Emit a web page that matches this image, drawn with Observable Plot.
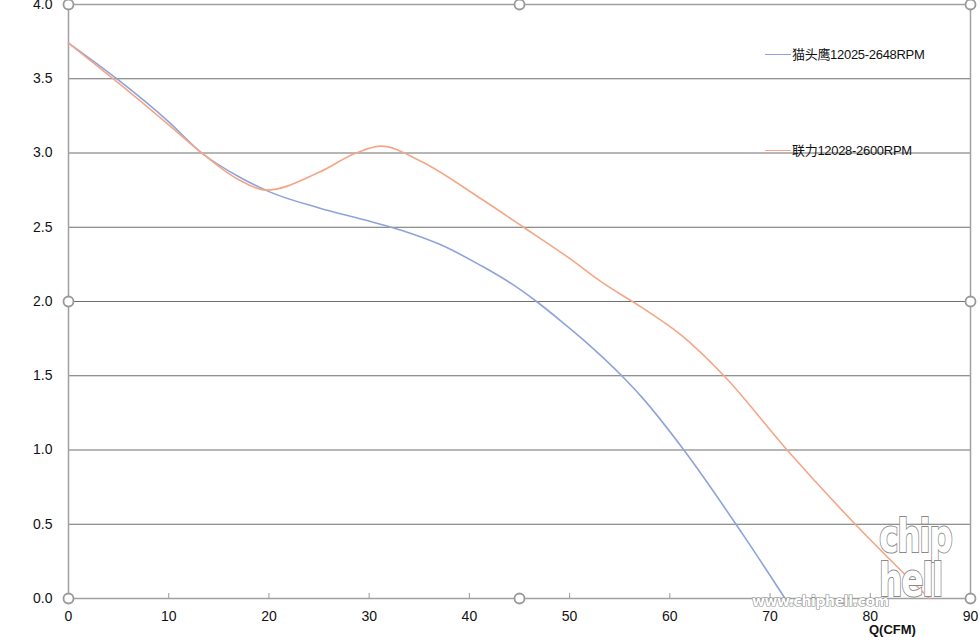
<!DOCTYPE html>
<html>
<head>
<meta charset="utf-8">
<script src="https://cdn.jsdelivr.net/npm/d3@7"></script>
<script src="https://cdn.jsdelivr.net/npm/@observablehq/plot@0.6"></script>
<style>
  html, body { margin: 0; padding: 0; background: #fff; }
  #wrap { position: relative; width: 980px; height: 637px; overflow: hidden;
          font-family: "Liberation Sans", Arial, "Noto Sans CJK SC", sans-serif; }
  .leg { position: absolute; font-size: 13px; color: #111; white-space: nowrap; letter-spacing: -0.3px; }
  .leg span.sw { display: inline-block; width: 26px; height: 0; border-top: 1.6px solid; vertical-align: middle; margin-right: 1px; position: relative; top: -1px; }
  .xlabel { position: absolute; font-size: 13px; font-weight: bold; color: #111; }
  .wm { position: absolute; font-family: "DejaVu Sans", sans-serif; font-weight: bold; color: #fff;
        -webkit-text-stroke: 1.2px #8a8a8a; paint-order: stroke fill; white-space: nowrap; }
</style>
</head>
<body>
<div id="wrap"></div>
<script>
// Series: 猫头鹰 12025-2648RPM  (Q in CFM, static pressure)
const qOwl = [0, 5, 10, 13.3, 17, 20, 25, 29.5, 33.2, 37.2, 41.2, 44.2, 46.7, 49.2, 51.4, 55.2, 57.2, 61.4, 67.2, 71.5];
const pOwl = [3.74, 3.49, 3.21, 3.0, 2.84, 2.74, 2.63, 2.55, 2.48, 2.38, 2.24, 2.12, 2.0, 1.865, 1.74, 1.5, 1.356, 1.0, 0.44, 0];
// Series: 联力 12028-2600RPM
const qLian = [0, 5, 10, 13.3, 17, 19.7, 25, 28.7, 31.2, 35, 41.2, 45.4, 50, 53.2, 57.2, 61.2, 65.4, 71.7, 78.5, 85.9];
const pLian = [3.74, 3.47, 3.19, 3.0, 2.82, 2.75, 2.87, 3.0, 3.046, 2.95, 2.69, 2.5, 2.29, 2.13, 1.96, 1.77, 1.5, 1.0, 0.5, 0];
const seriesNames = ["猫头鹰12025-2648RPM", "联力12028-2600RPM"];
const seriesColors = ["#8fa3db", "#f4a687"];
const xTicks = [0, 10, 20, 30, 40, 50, 60, 70, 80, 90];
const yTicks = [0, 0.5, 1.0, 1.5, 2.0, 2.5, 3.0, 3.5, 4.0];
const gridY = [0.5, 1.0, 1.5, 2.0, 2.5, 3.0, 3.5];
const handles = [[0, 0], [45, 0], [90, 0], [0, 2], [90, 2], [0, 4], [45, 4], [90, 4]];
const xTitle = "Q(CFM)";

const owl = qOwl.map((q, i) => ({q, p: pOwl[i]}));
const lian = qLian.map((q, i) => ({q, p: pLian[i]}));

const W = 980, H = 637;
const chart = Plot.plot({
  width: W, height: H,
  marginLeft: 68, marginRight: 10, marginTop: 4, marginBottom: 39,
  style: {fontFamily: "Liberation Sans, Arial, sans-serif", fontSize: "14px", color: "#111", background: "transparent", overflow: "visible"},
  x: {domain: [0, 90]},
  y: {domain: [0, 4]},
  marks: [
    Plot.ruleY(gridY, {stroke: "#6e6e6e", strokeWidth: 1}),
    Plot.ruleX(xTicks.slice(1, -1), {stroke: "#9a9a9a", strokeWidth: 1, insetTop: 589}),
    Plot.frame({stroke: "#a0a0a0", strokeWidth: 1.5}),
    Plot.axisX({ticks: xTicks, tickSize: 0, tickPadding: 13, tickFormat: d3.format("d"), label: null, fontSize: 14}),
    Plot.axisY({ticks: yTicks, tickSize: 0, tickPadding: 16, tickFormat: d3.format(".1f"), label: null, fontSize: 14}),
    Plot.line(owl, {x: "q", y: "p", stroke: seriesColors[0], strokeWidth: 1.6, curve: "monotone-x"}),
    Plot.line(lian, {x: "q", y: "p", stroke: seriesColors[1], strokeWidth: 1.6, curve: "monotone-x"}),
    Plot.dot(handles, {x: d => d[0], y: d => d[1], r: 5, fill: "white", stroke: "#999", strokeWidth: 1.8})
  ]
});

const wrap = document.getElementById("wrap");
chart.style.position = "absolute";
chart.style.left = "0px";
chart.style.top = "0px";
wrap.appendChild(chart);

// legend (inside plot area, top right)
const legTops = [44, 140];
seriesNames.forEach((name, i) => {
  const d = document.createElement("div");
  d.className = "leg";
  d.style.left = "765px";
  d.style.top = legTops[i] + "px";
  d.innerHTML = `<span class="sw" style="border-color:${seriesColors[i]}"></span>${name}`;
  wrap.appendChild(d);
});

// x-axis title
const xl = document.createElement("div");
xl.className = "xlabel";
xl.style.left = "869px";
xl.style.top = "622px";
xl.textContent = xTitle;
wrap.appendChild(xl);

// watermark
const wm2 = document.createElement("div");
wm2.className = "wm";
wm2.style.left = "879px"; wm2.style.top = "514px"; wm2.style.fontSize = "46px";
wm2.style.lineHeight = "44px"; wm2.style.letterSpacing = "-2px";
wm2.style.transform = "scaleX(0.72)"; wm2.style.transformOrigin = "left top";
wm2.style.webkitTextStroke = "2px #8a8a8a";
wm2.innerHTML = "chip<br>hell";
wrap.appendChild(wm2);
const wm1 = document.createElement("div");
wm1.className = "wm";
wm1.style.left = "752px"; wm1.style.top = "593px"; wm1.style.fontSize = "14px";
wm1.style.letterSpacing = "-0.4px";
wm1.textContent = "www.chiphell.com";
wrap.appendChild(wm1);
</script>
</body>
</html>
